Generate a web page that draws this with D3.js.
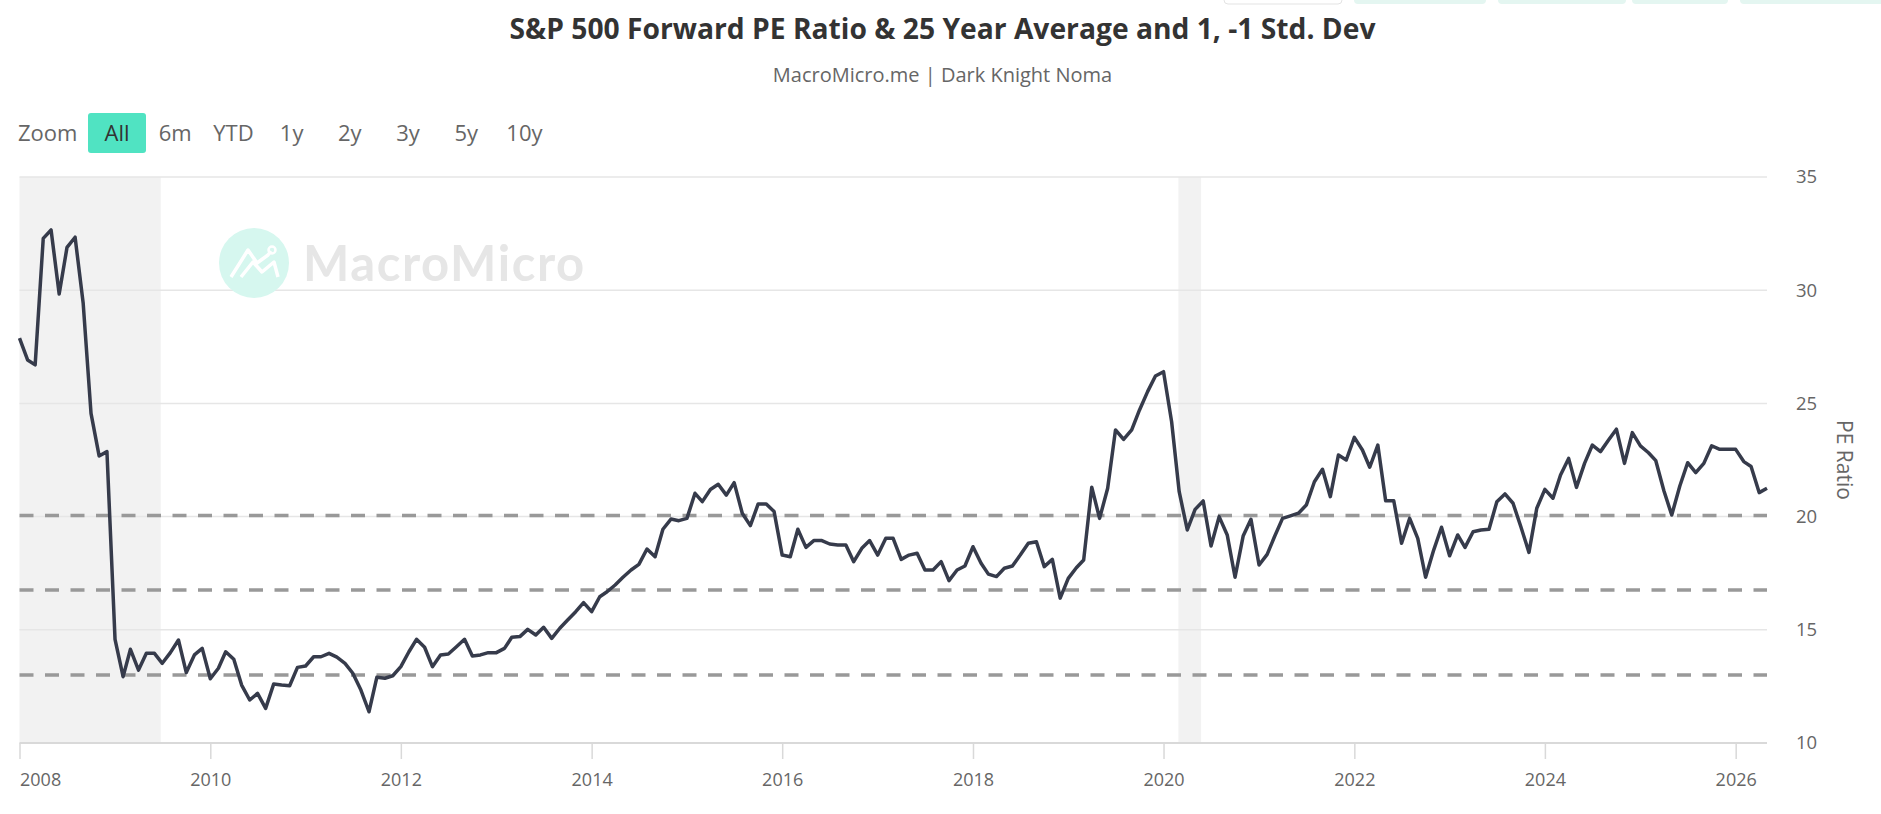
<!DOCTYPE html>
<html>
<head>
<meta charset="utf-8">
<script src="https://cdn.jsdelivr.net/npm/d3@7"></script>
<style>
  body { margin: 0; background: #fff; }
  svg { display: block; font-family: "Open Sans", "Noto Sans", sans-serif; }
</style>
</head>
<body>
<div id="chart"></div>
<script>
// data ------------------------------------------------------------------------------------------
const firstMonth = '2008-01-01';
const peRatio = [
  27.88, 26.92, 26.70, 32.29, 32.66, 29.83, 31.89, 32.34, 29.42, 24.56, 22.68, 22.87,
  14.58, 12.93, 14.14, 13.22, 13.96, 13.96, 13.52, 13.99, 14.55, 13.11, 13.89, 14.18,
  12.84, 13.30, 14.03, 13.70, 12.56, 11.90, 12.19, 11.53, 12.61, 12.56, 12.53, 13.34,
  13.40, 13.81, 13.81, 13.96, 13.79, 13.52, 13.08, 12.34, 11.38, 12.90, 12.86, 12.97,
  13.37, 14.03, 14.58, 14.23, 13.37, 13.89, 13.93, 14.25, 14.58, 13.84, 13.89, 13.99,
  13.99, 14.18, 14.67, 14.70, 15.02, 14.77, 15.11, 14.62, 15.07, 15.43, 15.80, 16.20,
  15.80, 16.46, 16.68, 16.98, 17.32, 17.64, 17.89, 18.57, 18.23, 19.44, 19.89, 19.82,
  19.92, 21.03, 20.66, 21.20, 21.43, 20.95, 21.50, 20.15, 19.60, 20.56, 20.56, 20.22,
  18.30, 18.23, 19.44, 18.64, 18.94, 18.94, 18.79, 18.75, 18.75, 18.01, 18.60, 18.94,
  18.30, 19.04, 19.04, 18.11, 18.30, 18.38, 17.64, 17.64, 18.01, 17.17, 17.64, 17.82,
  18.67, 17.94, 17.46, 17.35, 17.72, 17.82, 18.30, 18.82, 18.89, 17.79, 18.11, 16.40,
  17.27, 17.74, 18.08, 21.30, 19.92, 21.25, 23.83, 23.41, 23.83, 24.71, 25.52, 26.21,
  26.40, 24.19, 21.10, 19.41, 20.32, 20.69, 18.70, 20.00, 19.19, 17.32, 19.14, 19.88,
  17.86, 18.33, 19.11, 19.92, 20.03, 20.15, 20.51, 21.54, 22.09, 20.88, 22.72, 22.50,
  23.50, 22.94, 22.18, 23.16, 20.70, 20.70, 18.82, 19.92, 19.04, 17.32, 18.52, 19.53,
  18.27, 19.19, 18.64, 19.33, 19.41, 19.44, 20.66, 21.00, 20.59, 19.55, 18.42, 20.37,
  21.20, 20.81, 21.84, 22.57, 21.29, 22.35, 23.16, 22.87, 23.38, 23.86, 22.35, 23.71,
  23.12, 22.82, 22.47, 21.14, 20.07, 21.35, 22.38, 21.94, 22.35, 23.13, 22.97, 22.97,
  22.97, 22.43, 22.21, 21.06, 21.25
];
// 25 year average, +1 / -1 std. dev
const refLines = [20.05, 16.76, 13.00];
const recessions = [['2008-01-01', '2009-06-25'], ['2020-02-27', '2020-05-24']];
const yTicks = [10, 15, 20, 25, 30, 35];
const zoomButtons = ['All', '6m', 'YTD', '1y', '2y', '3y', '5y', '10y'];
const titleText = 'S&P 500 Forward PE Ratio & 25 Year Average and 1, -1 Std. Dev';
const subtitleText = 'MacroMicro.me | Dark Knight Noma';

// size ------------------------------------------------------------------------------------------
const width = 1881;
const height = 814;
const plot = { left: 19.5, right: 1767, top: 177, bottom: 743 };

const parse = d3.timeParse('%Y-%m-%d');
const start = parse(firstMonth);
const dataset = peRatio.map((v, i) => ({ date: d3.timeMonth.offset(start, i), value: v }));

const svg = d3.select('#chart').append('svg')
  .attr('width', width)
  .attr('height', height);

svg.append('rect').attr('width', width).attr('height', height).attr('fill', '#fff');

// tabs cut at the top of the page ---------------------------------------------------------------
const topTabs = [[1224, 118, '#fff'], [1354, 132, '#e4f6f1'], [1498, 128, '#e4f6f1'], [1632, 96, '#e4f6f1'], [1740, 160, '#e4f6f1']];
svg.append('g').selectAll('rect')
  .data(topTabs)
  .enter()
  .append('rect')
  .attr('x', d => d[0])
  .attr('y', -6)
  .attr('width', d => d[1])
  .attr('height', 10)
  .attr('rx', 4)
  .attr('fill', d => d[2])
  .attr('stroke', d => d[2] === '#fff' ? '#e3e3e3' : 'none');

// scales ----------------------------------------------------------------------------------------
const xScale = d3.scaleTime()
  .domain(d3.extent(dataset, d => d.date))
  .range([plot.left, plot.right]);

const yScale = d3.scaleLinear()
  .domain([10, 35])
  .range([plot.bottom, plot.top]);

// title -----------------------------------------------------------------------------------------
svg.append('text')
  .attr('x', width / 2 + 2)
  .attr('y', 39)
  .attr('text-anchor', 'middle')
  .attr('font-size', '28px')
  .attr('font-weight', 700)
  .attr('fill', '#333')
  .attr('textLength', 866)
  .attr('lengthAdjust', 'spacingAndGlyphs')
  .text(titleText);

svg.append('text')
  .attr('x', width / 2 + 2)
  .attr('y', 82)
  .attr('text-anchor', 'middle')
  .attr('font-size', '20px')
  .attr('fill', '#666')
  .text(subtitleText);

// zoom buttons ----------------------------------------------------------------------------------
svg.append('text')
  .attr('x', 18)
  .attr('y', 141)
  .attr('font-size', '22px')
  .attr('fill', '#666')
  .text('Zoom');

const btn = svg.append('g').selectAll('g')
  .data(zoomButtons)
  .enter()
  .append('g')
  .attr('transform', (d, i) => 'translate(' + (117 + i * 58.2) + ',0)');

btn.filter(d => d === 'All').append('rect')
  .attr('x', -29)
  .attr('y', 113)
  .attr('width', 58)
  .attr('height', 40)
  .attr('rx', 3)
  .attr('fill', '#50e3c2');

btn.append('text')
  .attr('y', 141)
  .attr('text-anchor', 'middle')
  .attr('font-size', '22px')
  .attr('fill', d => d === 'All' ? '#333' : '#666')
  .text(d => d);

// recession bands -------------------------------------------------------------------------------
svg.append('g').selectAll('rect')
  .data(recessions)
  .enter()
  .append('rect')
  .attr('x', d => Math.max(plot.left, xScale(parse(d[0]))))
  .attr('y', plot.top)
  .attr('width', d => xScale(parse(d[1])) - Math.max(plot.left, xScale(parse(d[0]))))
  .attr('height', plot.bottom - plot.top)
  .attr('fill', '#f2f2f2');

// grid ------------------------------------------------------------------------------------------
svg.append('g').selectAll('line')
  .data(yTicks.filter(d => d !== 10))
  .enter()
  .append('line')
  .attr('x1', plot.left)
  .attr('x2', plot.right)
  .attr('y1', d => yScale(d))
  .attr('y2', d => yScale(d))
  .attr('stroke', '#e6e6e6')
  .attr('stroke-width', 1.5);

// watermark -------------------------------------------------------------------------------------
const wm = svg.append('g');
wm.append('circle').attr('cx', 254).attr('cy', 263).attr('r', 35).attr('fill', '#d6f7ef');
wm.append('polyline')
  .attr('points', '231,277 248,250 257,263 268,255 271,251')
  .attr('fill', 'none').attr('stroke', '#fff').attr('stroke-width', 3.5).attr('stroke-linejoin', 'round');
wm.append('polyline')
  .attr('points', '241,277 253,262 262,272 274,262 278,277')
  .attr('fill', 'none').attr('stroke', '#fff').attr('stroke-width', 3.5).attr('stroke-linejoin', 'round');
wm.append('circle').attr('cx', 272).attr('cy', 250).attr('r', 3.5).attr('fill', 'none').attr('stroke', '#fff').attr('stroke-width', 2.5);
wm.append('text')
  .attr('x', 303)
  .attr('y', 281)
  .attr('font-family', 'Lato, sans-serif')
  .attr('font-size', '49px')
  .attr('font-weight', 700)
  .attr('letter-spacing', '1.6px')
  .attr('fill', '#e6e6e6')
  .text('MacroMicro');

// average and std. dev lines --------------------------------------------------------------------
svg.append('g').selectAll('line')
  .data(refLines)
  .enter()
  .append('line')
  .attr('x1', plot.left)
  .attr('x2', plot.right)
  .attr('y1', d => yScale(d))
  .attr('y2', d => yScale(d))
  .attr('stroke', '#999')
  .attr('stroke-width', 3.5)
  .attr('stroke-dasharray', '14,11.5');

// x axis ----------------------------------------------------------------------------------------
const xAxis = d3.axisBottom(xScale)
  .ticks(d3.timeYear.every(2))
  .tickFormat(d3.timeFormat('%Y'))
  .tickSize(16)
  .tickPadding(14);

const gx = svg.append('g')
  .attr('transform', 'translate(0,' + plot.bottom + ')')
  .call(xAxis);
gx.select('.domain').remove();
gx.append('line')
  .attr('x1', plot.left)
  .attr('x2', plot.right)
  .attr('stroke', '#d9d9d9')
  .attr('stroke-width', 2);
gx.selectAll('.tick line').attr('stroke', '#d9d9d9').attr('stroke-width', 1.5);
gx.selectAll('.tick text')
  .attr('font-size', '18px')
  .attr('font-family', '"Open Sans", sans-serif')
  .attr('fill', '#666')
  .attr('text-anchor', (d, i) => i === 0 ? 'start' : 'middle');

// y axis ----------------------------------------------------------------------------------------
const yAxis = d3.axisRight(yScale)
  .tickValues(yTicks)
  .tickSize(0)
  .tickPadding(0);

const gy = svg.append('g')
  .attr('transform', 'translate(1796,0)')
  .call(yAxis);
gy.select('.domain').remove();
gy.selectAll('.tick text')
  .attr('font-size', '18.5px')
  .attr('font-family', '"Open Sans", sans-serif')
  .attr('fill', '#666');

svg.append('text')
  .attr('transform', 'translate(1837,' + ((plot.top + plot.bottom) / 2) + ') rotate(90)')
  .attr('text-anchor', 'middle')
  .attr('font-size', '21px')
  .attr('fill', '#666')
  .text('PE Ratio');

// line ------------------------------------------------------------------------------------------
const line = d3.line()
  .x(d => xScale(d.date))
  .y(d => yScale(d.value));

svg.append('path')
  .datum(dataset)
  .attr('fill', 'none')
  .attr('stroke', '#363b4b')
  .attr('stroke-width', 3.5)
  .attr('stroke-linejoin', 'round')
  .attr('d', line);
</script>
</body>
</html>
